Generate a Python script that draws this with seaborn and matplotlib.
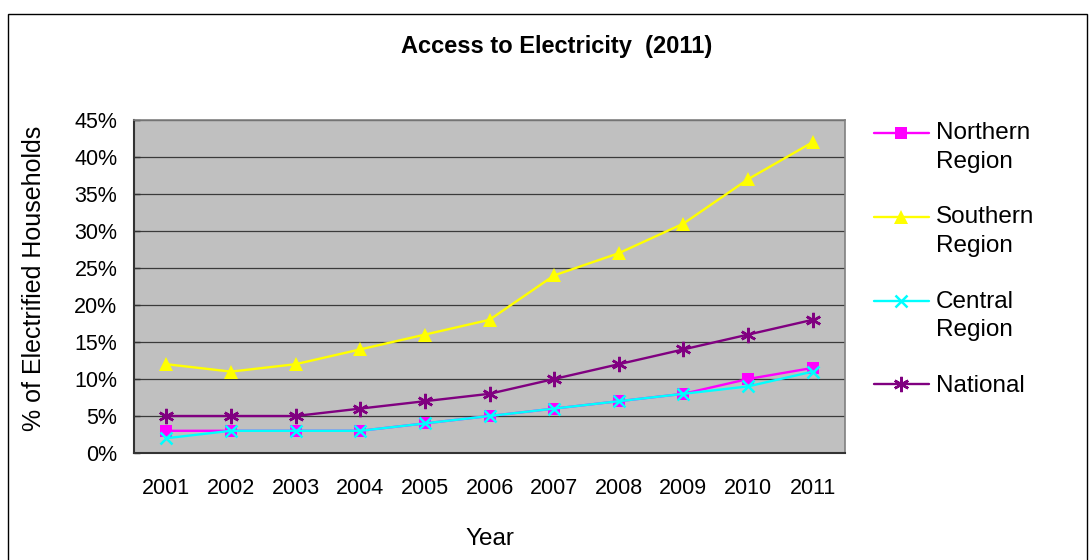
import pandas as pd
import matplotlib.pyplot as plt
import seaborn as sns
from matplotlib.patches import Rectangle
from matplotlib.ticker import PercentFormatter, FixedLocator
from matplotlib.legend_handler import HandlerLine2D

# =========================
# Dados
# =========================
anos = ['2001', '2002', '2003', '2004', '2005', '2006', '2007', '2008', '2009', '2010', '2011']
northern = [3, 3, 3, 3, 4, 5, 6, 7, 8, 10, 11.5]
southern = [12, 11, 12, 14, 16, 18, 24, 27, 31, 37, 42]
central = [2, 3, 3, 3, 4, 5, 6, 7, 8, 9, 11]
national = [5, 5, 5, 6, 7, 8, 10, 12, 14, 16, 18]

series = ['Northern\nRegion', 'Southern\nRegion', 'Central\nRegion', 'National']
valores = [northern, southern, central, national]

df = pd.DataFrame({
    'Year': anos * len(series),
    'value': sum(valores, []),
    'serie': [s for s in series for _ in anos],
})

cores = dict(zip(series, ['#FF00FF', '#FFFF00', '#00FFFF', '#800080']))

# estilo dos marcadores de cada serie
estilos = {
    'Northern\nRegion': dict(marker='s', markersize=8.5, markeredgewidth=0),
    'Southern\nRegion': dict(marker='^', markersize=10.5, markeredgewidth=0),
    'Central\nRegion': dict(marker='x', markersize=9, markeredgewidth=1.8),
    'National': dict(marker=(6, 2, 0), markersize=11, markeredgewidth=1.8),
}

LEG_FS = 17.5
LEG_LS = 1.4


# legenda estilo Excel: linha alinhada com a primeira linha do texto
class HandlerPrimeiraLinha(HandlerLine2D):
    def create_artists(self, legend, orig_handle, xdescent, ydescent,
                       width, height, fontsize, trans):
        artistas = super().create_artists(legend, orig_handle, xdescent, ydescent,
                                          width, height, fontsize, trans)
        if '\n' in orig_handle.get_label():
            for a in artistas:
                a.set_ydata([y + 0.6 * fontsize for y in a.get_ydata()])
        return artistas


# =========================
# Figura
# =========================
sns.set_style('white')
plt.rcParams['font.family'] = ['Liberation Sans', 'DejaVu Sans']
plt.rcParams['text.color'] = 'black'
plt.rcParams['axes.labelcolor'] = 'black'
plt.rcParams['xtick.labelcolor'] = 'black'
plt.rcParams['ytick.labelcolor'] = 'black'

fig = plt.figure(figsize=(10.91, 5.6), dpi=100)
ax = fig.add_axes([134 / 1091, 1 - 453 / 560, 711 / 1091, 333 / 560])
ax.set_facecolor('#C0C0C0')

for s in series:
    d = df[df['serie'] == s]
    sns.lineplot(data=d, x='Year', y='value', color=cores[s], linewidth=1.7,
                 label=s, ax=ax, markeredgecolor=cores[s], **estilos[s])

ax.set_xlim(-0.5, 10.5)
ax.set_ylim(0, 45)
ax.yaxis.set_major_locator(FixedLocator(range(0, 46, 5)))
ax.yaxis.set_major_formatter(PercentFormatter(decimals=0))
ax.grid(axis='y', color='#3a3a3a', linewidth=0.9)
ax.set_axisbelow(True)

# ticks entre categorias (estilo Excel)
ax.set_xticks(range(len(anos)))
ax.set_xticklabels(anos)
ax.set_xticks([i - 0.5 for i in range(len(anos) + 1)], minor=True)
ax.tick_params(axis='x', which='major', length=0, labelsize=15.5, pad=18, labelcolor='black')
ax.tick_params(axis='x', which='minor', length=4, width=1, color='#333333', direction='in')
ax.tick_params(axis='y', which='major', length=4, width=1, color='#333333', direction='in',
               left=True, labelsize=15.5, pad=12, labelcolor='black')

for lado in ['top', 'right']:
    ax.spines[lado].set_color('#808080')
    ax.spines[lado].set_linewidth(1.2)
for lado in ['left', 'bottom']:
    ax.spines[lado].set_color('#333333')
    ax.spines[lado].set_linewidth(1.5)

ax.set_xlabel('Year', fontsize=17.5, color='black')
ax.set_ylabel('% of Electrified Households', fontsize=18, color='black')
ax.xaxis.set_label_coords(0.5, (453 - 528) / 333)
ax.yaxis.set_label_coords((46 - 134) / 711, 0.525)
fig.text(557 / 1091, 1 - 46 / 560, 'Access to Electricity  (2011)', ha='center', va='center',
         fontsize=17, fontweight='bold', color='black')

handles, labels = ax.get_legend_handles_labels()
leg = ax.legend(handles, labels, loc='upper left', bbox_to_anchor=(874 / 1091, 1 - 122 / 560),
                bbox_transform=fig.transFigure, frameon=False, fontsize=LEG_FS,
                handlelength=2.25, handletextpad=0.3, labelspacing=1.38, borderpad=0,
                borderaxespad=0, handler_map={h: HandlerPrimeiraLinha() for h in handles})
for t in leg.get_texts():
    t.set_linespacing(LEG_LS)
    t.set_color('black')

fig.patches.append(Rectangle((8 / 1091, -0.05), 1079 / 1091, 1.05 - 14 / 560,
                             transform=fig.transFigure, fill=False,
                             edgecolor='black', linewidth=1))

plt.savefig('out.png', dpi=100)
